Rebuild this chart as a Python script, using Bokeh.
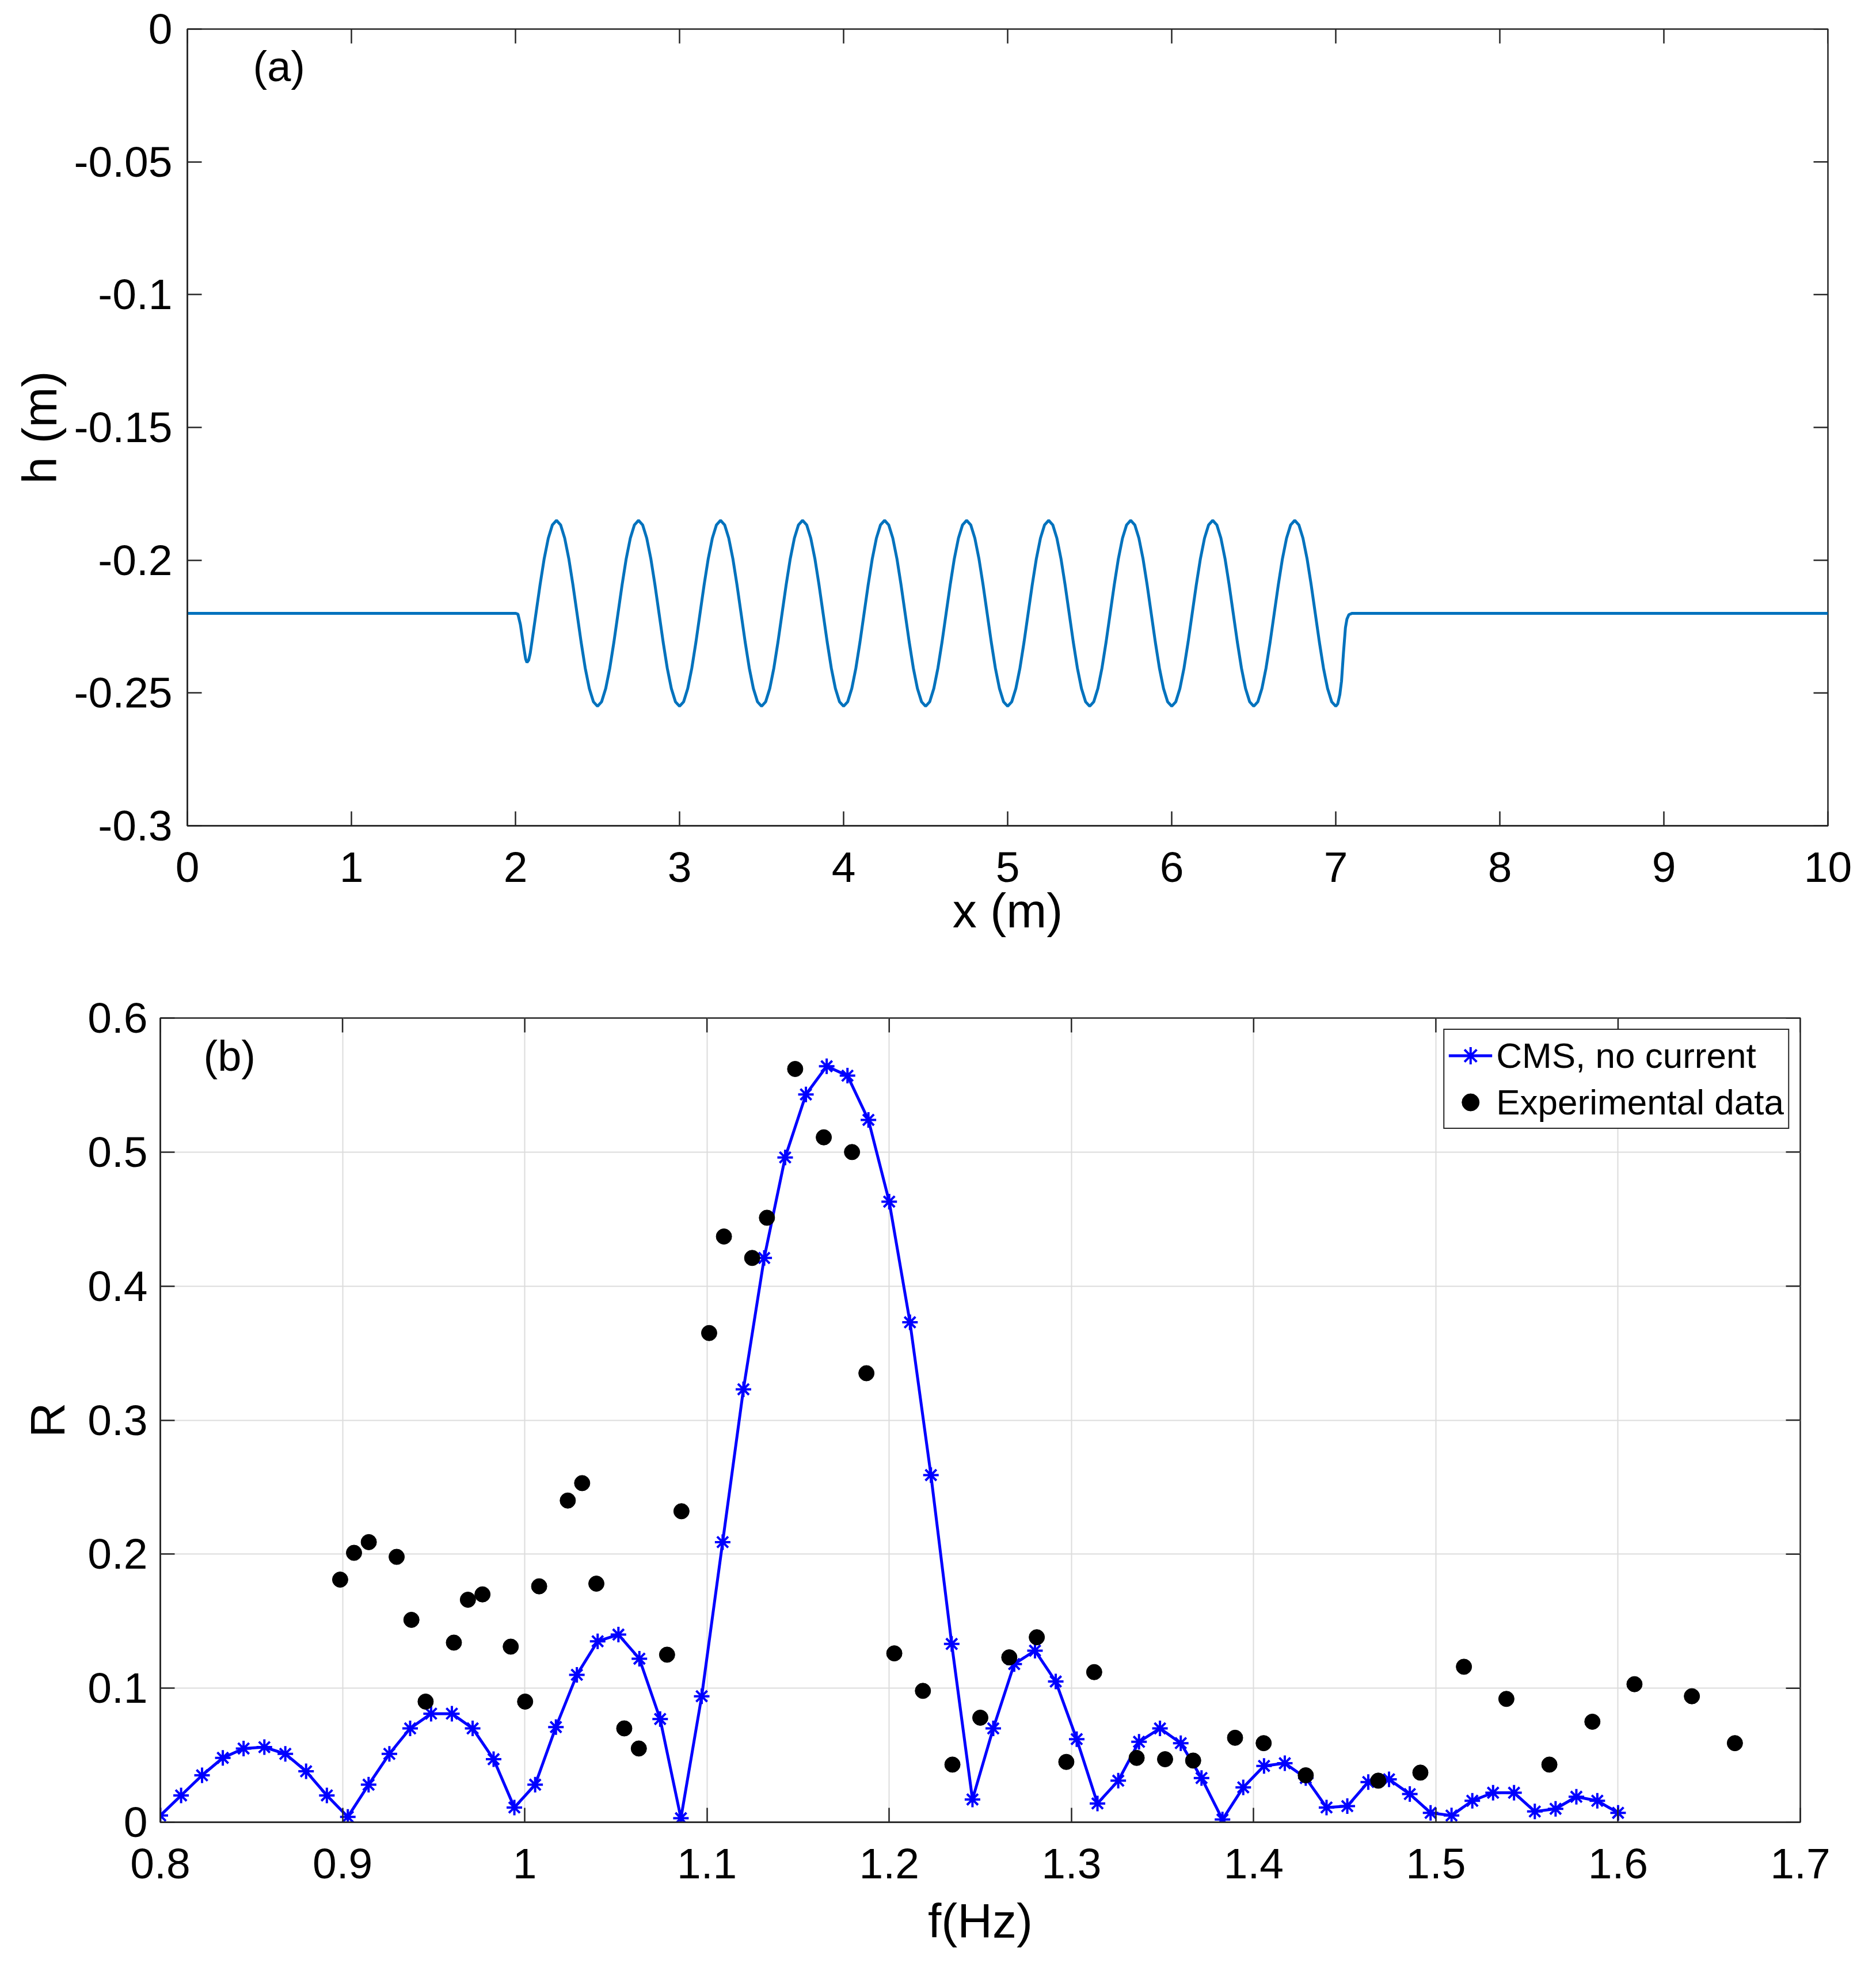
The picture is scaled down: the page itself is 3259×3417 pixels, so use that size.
import math
from bokeh.plotting import figure
from bokeh.models import FixedTicker, Range1d, Label, Legend, LegendItem
from bokeh.layouts import column
from bokeh.embed import file_html
from bokeh.resources import INLINE

FONT = "Liberation Sans"

# ---------------- Panel (a): bed profile h(x) ----------------
bed_x_start = [0.0, 2.0, 2.015, 2.03, 2.047, 2.062, 2.07, 2.08, 2.09]
bed_h_start = [-0.2200, -0.2200, -0.2203, -0.2242, -0.2313, -0.2372, -0.2385, -0.2377, -0.2350]

bed_x_wave = [
    2.1, 2.125, 2.15, 2.175, 2.2, 2.225, 2.25, 2.275, 2.3, 2.325, 2.35, 2.375, 2.4, 2.425, 2.45, 2.475, 2.5, 2.525, 2.55, 2.575,
    2.6, 2.625, 2.65, 2.675, 2.7, 2.725, 2.75, 2.775, 2.8, 2.825, 2.85, 2.875, 2.9, 2.925, 2.95, 2.975, 3.0, 3.025, 3.05, 3.075,
    3.1, 3.125, 3.15, 3.175, 3.2, 3.225, 3.25, 3.275, 3.3, 3.325, 3.35, 3.375, 3.4, 3.425, 3.45, 3.475, 3.5, 3.525, 3.55, 3.575,
    3.6, 3.625, 3.65, 3.675, 3.7, 3.725, 3.75, 3.775, 3.8, 3.825, 3.85, 3.875, 3.9, 3.925, 3.95, 3.975, 4.0, 4.025, 4.05, 4.075,
    4.1, 4.125, 4.15, 4.175, 4.2, 4.225, 4.25, 4.275, 4.3, 4.325, 4.35, 4.375, 4.4, 4.425, 4.45, 4.475, 4.5, 4.525, 4.55, 4.575,
    4.6, 4.625, 4.65, 4.675, 4.7, 4.725, 4.75, 4.775, 4.8, 4.825, 4.85, 4.875, 4.9, 4.925, 4.95, 4.975, 5.0, 5.025, 5.05, 5.075,
    5.1, 5.125, 5.15, 5.175, 5.2, 5.225, 5.25, 5.275, 5.3, 5.325, 5.35, 5.375, 5.4, 5.425, 5.45, 5.475, 5.5, 5.525, 5.55, 5.575,
    5.6, 5.625, 5.65, 5.675, 5.7, 5.725, 5.75, 5.775, 5.8, 5.825, 5.85, 5.875, 5.9, 5.925, 5.95, 5.975, 6.0, 6.025, 6.05, 6.075,
    6.1, 6.125, 6.15, 6.175, 6.2, 6.225, 6.25, 6.275, 6.3, 6.325, 6.35, 6.375, 6.4, 6.425, 6.45, 6.475, 6.5, 6.525, 6.55, 6.575,
    6.6, 6.625, 6.65, 6.675, 6.7, 6.725, 6.75, 6.775, 6.8, 6.825, 6.85, 6.875, 6.9, 6.925, 6.95, 6.975, 7.0,
]
bed_h_wave = [
    -0.2308, -0.2200, -0.2092, -0.1994, -0.1917, -0.1867, -0.1850, -0.1867, -0.1917, -0.1994, -0.2092, -0.2200, -0.2308, -0.2406, -0.2483, -0.2533, -0.2550, -0.2533, -0.2483, -0.2406,
    -0.2308, -0.2200, -0.2092, -0.1994, -0.1917, -0.1867, -0.1850, -0.1867, -0.1917, -0.1994, -0.2092, -0.2200, -0.2308, -0.2406, -0.2483, -0.2533, -0.2550, -0.2533, -0.2483, -0.2406,
    -0.2308, -0.2200, -0.2092, -0.1994, -0.1917, -0.1867, -0.1850, -0.1867, -0.1917, -0.1994, -0.2092, -0.2200, -0.2308, -0.2406, -0.2483, -0.2533, -0.2550, -0.2533, -0.2483, -0.2406,
    -0.2308, -0.2200, -0.2092, -0.1994, -0.1917, -0.1867, -0.1850, -0.1867, -0.1917, -0.1994, -0.2092, -0.2200, -0.2308, -0.2406, -0.2483, -0.2533, -0.2550, -0.2533, -0.2483, -0.2406,
    -0.2308, -0.2200, -0.2092, -0.1994, -0.1917, -0.1867, -0.1850, -0.1867, -0.1917, -0.1994, -0.2092, -0.2200, -0.2308, -0.2406, -0.2483, -0.2533, -0.2550, -0.2533, -0.2483, -0.2406,
    -0.2308, -0.2200, -0.2092, -0.1994, -0.1917, -0.1867, -0.1850, -0.1867, -0.1917, -0.1994, -0.2092, -0.2200, -0.2308, -0.2406, -0.2483, -0.2533, -0.2550, -0.2533, -0.2483, -0.2406,
    -0.2308, -0.2200, -0.2092, -0.1994, -0.1917, -0.1867, -0.1850, -0.1867, -0.1917, -0.1994, -0.2092, -0.2200, -0.2308, -0.2406, -0.2483, -0.2533, -0.2550, -0.2533, -0.2483, -0.2406,
    -0.2308, -0.2200, -0.2092, -0.1994, -0.1917, -0.1867, -0.1850, -0.1867, -0.1917, -0.1994, -0.2092, -0.2200, -0.2308, -0.2406, -0.2483, -0.2533, -0.2550, -0.2533, -0.2483, -0.2406,
    -0.2308, -0.2200, -0.2092, -0.1994, -0.1917, -0.1867, -0.1850, -0.1867, -0.1917, -0.1994, -0.2092, -0.2200, -0.2308, -0.2406, -0.2483, -0.2533, -0.2550, -0.2533, -0.2483, -0.2406,
    -0.2308, -0.2200, -0.2092, -0.1994, -0.1917, -0.1867, -0.1850, -0.1867, -0.1917, -0.1994, -0.2092, -0.2200, -0.2308, -0.2406, -0.2483, -0.2533, -0.2550,
]
bed_x_end = [7.012, 7.025, 7.035, 7.047, 7.059, 7.068, 7.08, 7.1, 10.0]
bed_h_end = [-0.2541, -0.2505, -0.2456, -0.2348, -0.2254, -0.2222, -0.2205, -0.2200, -0.2200]

a_xrange = (0, 10)
a_yrange = (-0.3, 0)
a_xticks = [0, 1, 2, 3, 4, 5, 6, 7, 8, 9, 10]
a_xlabels = ["0", "1", "2", "3", "4", "5", "6", "7", "8", "9", "10"]
a_yticks = [0.0, -0.05, -0.1, -0.15, -0.2, -0.25, -0.3]
a_ylabels = ["0", "-0.05", "-0.1", "-0.15", "-0.2", "-0.25", "-0.3"]

# ---------------- Panel (b): reflection coefficient ----------------
f_cms = [
    0.8000, 0.8114, 0.8229, 0.8343, 0.8457, 0.8571, 0.8686, 0.8800, 0.8914, 0.9029,
    0.9143, 0.9257, 0.9371, 0.9486, 0.9600, 0.9714, 0.9829, 0.9943, 1.0057, 1.0171,
    1.0286, 1.0400, 1.0514, 1.0629, 1.0743, 1.0857, 1.0971, 1.1086, 1.1200, 1.1314,
    1.1429, 1.1543, 1.1657, 1.1771, 1.1886, 1.2000, 1.2114, 1.2229, 1.2343, 1.2457,
    1.2571, 1.2686, 1.2800, 1.2914, 1.3029, 1.3143, 1.3257, 1.3371, 1.3486, 1.3600,
    1.3714, 1.3829, 1.3943, 1.4057, 1.4171, 1.4286, 1.4400, 1.4514, 1.4629, 1.4743,
    1.4857, 1.4971, 1.5086, 1.5200, 1.5314, 1.5429, 1.5543, 1.5657, 1.5771, 1.5886,
    1.6000,
]
r_cms = [
    0.005, 0.020, 0.035, 0.048, 0.055, 0.056, 0.051, 0.038, 0.020, 0.004,
    0.028, 0.051, 0.070, 0.081, 0.081, 0.070, 0.047, 0.011, 0.028, 0.071,
    0.110, 0.135, 0.140, 0.122, 0.077, 0.003, 0.094, 0.209, 0.323, 0.421,
    0.496, 0.543, 0.564, 0.557, 0.524, 0.463, 0.373, 0.259, 0.133, 0.017,
    0.070, 0.118, 0.128, 0.105, 0.062, 0.014, 0.031, 0.060, 0.070, 0.059,
    0.033, 0.002, 0.026, 0.042, 0.044, 0.033, 0.011, 0.012, 0.030, 0.032,
    0.021, 0.007, 0.005, 0.016, 0.022, 0.022, 0.008, 0.010, 0.019, 0.016,
    0.007,
]
f_exp = [
    0.8987, 0.9063, 0.9144, 0.9297, 0.9378, 0.9456, 0.9611, 0.9688, 0.9768, 0.9923,
    1.0002, 1.0079, 1.0236, 1.0315, 1.0393, 1.0546, 1.0626, 1.0781, 1.0860, 1.1012,
    1.1093, 1.1248, 1.1329, 1.1484, 1.1641, 1.1796, 1.1875, 1.2028, 1.2185, 1.2347,
    1.2500, 1.2659, 1.2810, 1.2972, 1.3125, 1.3358, 1.3514, 1.3668, 1.3898, 1.4055,
    1.4286, 1.4684, 1.4915, 1.5154, 1.5387, 1.5623, 1.5859, 1.6090, 1.6405, 1.6641,
]
r_exp = [
    0.181, 0.201, 0.209, 0.198, 0.151, 0.090, 0.134, 0.166, 0.170, 0.131,
    0.090, 0.176, 0.240, 0.253, 0.178, 0.070, 0.055, 0.125, 0.232, 0.365,
    0.437, 0.421, 0.451, 0.562, 0.511, 0.500, 0.335, 0.126, 0.098, 0.043,
    0.078, 0.123, 0.138, 0.045, 0.112, 0.048, 0.047, 0.046, 0.063, 0.059,
    0.035, 0.031, 0.037, 0.116, 0.092, 0.043, 0.075, 0.103, 0.094, 0.059,
]
b_xrange = (0.8, 1.7)
b_yrange = (0, 0.6)
b_xticks = [0.8, 0.9, 1.0, 1.1, 1.2, 1.3, 1.4, 1.5, 1.6, 1.7]
b_xlabels = ["0.8", "0.9", "1", "1.1", "1.2", "1.3", "1.4", "1.5", "1.6", "1.7"]
b_yticks = [0.0, 0.1, 0.2, 0.3, 0.4, 0.5, 0.6]
b_ylabels = ["0", "0.1", "0.2", "0.3", "0.4", "0.5", "0.6"]

AX = "#262626"
TICK_FS = "75px"
LABEL_FS = "84px"
TICK_LEN = 25


def style_axis(ax, ticks, labels):
    ax.ticker = FixedTicker(ticks=ticks)
    ax.axis_line_color = AX
    ax.axis_line_width = 2.5
    ax.major_tick_in = TICK_LEN
    ax.major_tick_out = 0
    ax.major_tick_line_color = AX
    ax.major_tick_line_width = 2.5
    ax.minor_tick_line_color = None
    ax.major_label_text_font = FONT
    ax.major_label_text_color = "black"
    ax.major_label_text_font_size = TICK_FS
    ax.major_label_overrides = {t: l for t, l in zip(ticks, labels)}
    ax.axis_label_text_font = FONT
    ax.axis_label_text_font_size = LABEL_FS
    ax.axis_label_text_font_style = "normal"
    ax.axis_label_text_color = "black"


def box_ticks(p, xticks, yticks, xr, yr):
    # inward tick marks on the top and right edges of the box
    p.ray(x=xticks, y=[yr[1]] * len(xticks), length=TICK_LEN, length_units="screen",
          angle=-math.pi / 2, line_color=AX, line_width=2.5)
    p.ray(x=[xr[1]] * len(yticks), y=yticks, length=TICK_LEN, length_units="screen",
          angle=math.pi, line_color=AX, line_width=2.5)


# ---------------- figure (a) ----------------
pa = figure(frame_width=2850, frame_height=1384,
            x_range=Range1d(*a_xrange), y_range=Range1d(*a_yrange),
            output_backend="svg", toolbar_location=None,
            min_border_left=325, min_border_right=76,
            min_border_top=50, min_border_bottom=234)
pa.frame_align = False
pa.outline_line_color = AX
pa.outline_line_width = 2.5
pa.xgrid.visible = False
pa.ygrid.visible = False

pa.line(bed_x_start + bed_x_wave + bed_x_end, bed_h_start + bed_h_wave + bed_h_end,
        line_color="#0072BD", line_width=5)
box_ticks(pa, a_xticks, a_yticks, a_xrange, a_yrange)

style_axis(pa.xaxis[0], a_xticks, a_xlabels)
style_axis(pa.yaxis[0], a_yticks, a_ylabels)
pa.xaxis.axis_label = "x (m)"
pa.yaxis.axis_label = "h (m)"
pa.xaxis.major_label_standoff = 46
pa.xaxis.axis_label_standoff = 0
pa.yaxis.major_label_standoff = 26
pa.yaxis.axis_label_standoff = 10

pa.add_layout(Label(x=0.4, y=-0.0141, text="(a)", text_font=FONT, text_font_size="74px",
                    text_baseline="middle", text_align="left", text_color="black"))

# ---------------- figure (b) ----------------
pb = figure(frame_width=2849, frame_height=1397,
            x_range=Range1d(*b_xrange), y_range=Range1d(*b_yrange),
            output_backend="svg", toolbar_location=None,
            min_border_left=278, min_border_right=120,
            min_border_top=100, min_border_bottom=236)
pb.frame_align = False
pb.outline_line_color = AX
pb.outline_line_width = 2.5

style_axis(pb.xaxis[0], b_xticks, b_xlabels)
style_axis(pb.yaxis[0], b_yticks, b_ylabels)
pb.xaxis.axis_label = "f(Hz)"
pb.yaxis.axis_label = "R"
pb.xaxis.major_label_standoff = 46
pb.xaxis.axis_label_standoff = 24
pb.yaxis.major_label_standoff = 22
pb.yaxis.axis_label_standoff = 19

pb.xgrid.ticker = FixedTicker(ticks=b_xticks)
pb.ygrid.ticker = FixedTicker(ticks=b_yticks)
pb.xgrid.grid_line_color = "#dcdcdc"
pb.ygrid.grid_line_color = "#dcdcdc"
pb.xgrid.grid_line_width = 2
pb.ygrid.grid_line_width = 2

box_ticks(pb, b_xticks, b_yticks, b_xrange, b_yrange)

r_line = pb.line(f_cms, r_cms, line_color="#0000ff", line_width=5)
r_star = pb.scatter(f_cms, r_cms, marker="asterisk", size=27,
                    line_color="#0000ff", line_width=4)
r_dots = pb.scatter(f_exp, r_exp, marker="circle", size=27,
                    fill_color="black", line_color="black")

legend = Legend(items=[LegendItem(label="CMS, no current", renderers=[r_line, r_star]),
                       LegendItem(label="Experimental data", renderers=[r_dots])],
                location="top_right")
legend.label_text_font = FONT
legend.label_text_font_size = "62px"
legend.label_text_color = "black"
legend.border_line_color = AX
legend.border_line_width = 2.5
legend.border_line_alpha = 1.0
legend.background_fill_color = "white"
legend.background_fill_alpha = 1.0
legend.padding = 7
legend.spacing = 6
legend.label_standoff = 7
legend.glyph_width = 76
legend.glyph_height = 75
legend.label_height = 75
legend.margin = 19
pb.add_layout(legend)

pb.add_layout(Label(x=0.8237, y=0.5717, text="(b)", text_font=FONT, text_font_size="74px",
                    text_baseline="middle", text_align="left", text_color="black"))

layout = column(pa, pb)
open("out.html", "w").write(file_html(layout, INLINE))
